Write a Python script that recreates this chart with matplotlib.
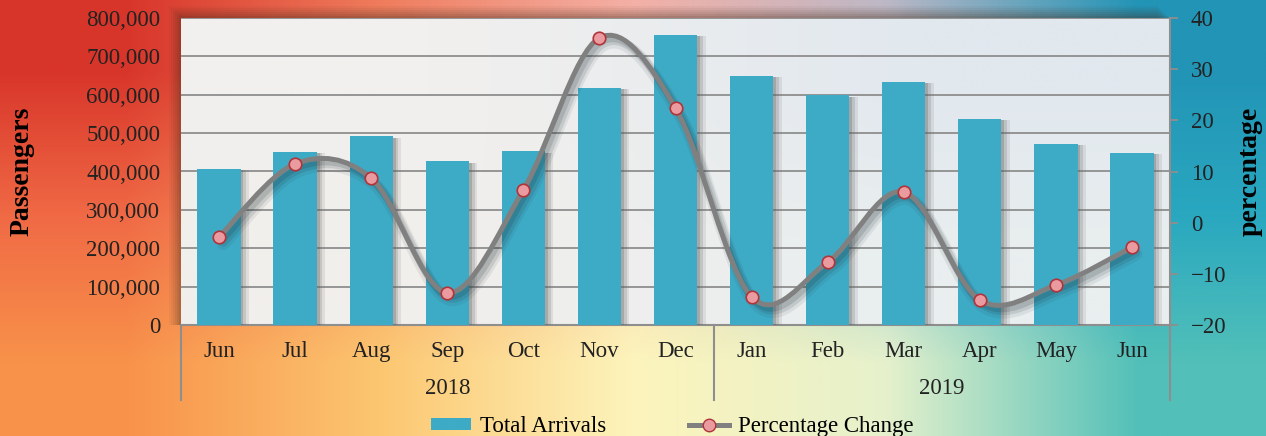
import numpy as np
import matplotlib
matplotlib.use('Agg')
import matplotlib.pyplot as plt
import matplotlib.patheffects as pe
from matplotlib.path import Path
from matplotlib.patches import PathPatch, Rectangle
from matplotlib.colors import to_rgb
from matplotlib.lines import Line2D
from matplotlib.transforms import blended_transform_factory

# data
months = ['Jun', 'Jul', 'Aug', 'Sep', 'Oct', 'Nov', 'Dec',
          'Jan', 'Feb', 'Mar', 'Apr', 'May', 'Jun']
years = ['2018', '2019']
year_spans = [(0, 6), (7, 12)]
arrivals = [407000, 451000, 492000, 427000, 453000, 618000, 756000,
            649000, 599000, 633000, 537000, 472000, 448000]
pct_change = [-2.8, 11.5, 8.7, -13.7, 6.4, 36.1, 22.4,
              -14.5, -7.7, 6.0, -15.1, -12.2, -4.8]

plt.rcParams['font.family'] = ['Liberation Serif', 'DejaVu Serif']
plt.rcParams['font.size'] = 16.5

W, H = 1266, 436
fig = plt.figure(figsize=(W / 100, H / 100), dpi=100)

# gradient page background
bg = fig.add_axes([0, 0, 1, 1], zorder=-10)
top = ['#d8352a', '#ef7c5c', '#f4b0a6', '#bdb8c6', '#2294b6']
mid = ['#f06a45', '#f7a068', '#f8d8b0', '#9ccfcf', '#2aa8c0']
bot = ['#f8924a', '#fcc670', '#fdf4bc', '#e6f1cc', '#52c0b8']
grid = np.array([[to_rgb(c) for c in row] for row in (top, mid, bot)])
bg.imshow(grid, extent=[0, 1, 0, 1], aspect='auto', interpolation='bilinear')
bg.set_axis_off()

left, right = 181 / W, 1170 / W
bottom, topy = (H - 325) / H, (H - 18) / H
ax = fig.add_axes([left, bottom, right - left, topy - bottom], zorder=1)

# soft shadow of the plot area (left and top)
for i, a in enumerate([0.05, 0.06, 0.07, 0.08, 0.10, 0.12]):
    d = (6 - i) * 2
    fig.patches.append(Rectangle((left - d / W, bottom), right - left, topy - bottom + d / H,
                                 transform=fig.transFigure, facecolor='#4a3020',
                                 alpha=a, edgecolor='none', zorder=0))

# plot area fill
area = np.array([[to_rgb('#f2f0ee'), to_rgb('#e1e8ee')],
                 [to_rgb('#f1efec'), to_rgb('#e9eeef')]])
ax.imshow(area, extent=[0, 1, 0, 1], transform=ax.transAxes, aspect='auto',
          interpolation='bilinear', zorder=0)

x = np.arange(len(months))
bars = ax.bar(x, arrivals, width=0.57, color='#3eabc6', zorder=3)
for b in bars:
    b.set_path_effects([pe.SimplePatchShadow(offset=(6, -1), shadow_rgbFace='#777777', alpha=0.15),
                        pe.SimplePatchShadow(offset=(4, -1), shadow_rgbFace='#666666', alpha=0.2),
                        pe.SimplePatchShadow(offset=(2, -1), shadow_rgbFace='#555555', alpha=0.25),
                        pe.Normal()])

ax.set_xlim(-0.5, len(months) - 0.5)
ax.set_ylim(0, 800000)
ax.set_yticks(np.arange(0, 800001, 100000))
ax.set_yticklabels([f'{v:,}' for v in range(0, 800001, 100000)])
ax.yaxis.grid(True, color='#8e8e8e', linewidth=1.3, zorder=1)
ax.set_axisbelow(True)
ax.tick_params(axis='y', length=0, pad=15, labelcolor='#222222')
ax.set_xticks([])
for s in ['top', 'left', 'right']:
    ax.spines[s].set_visible(False)
ax.spines['bottom'].set_color('#8e8e8e')
ax.spines['bottom'].set_linewidth(1.5)
ax.set_ylabel('Passengers', fontweight='bold', fontsize=20)
ax.yaxis.set_label_coords(-0.148, 0.5)

# multi-level category axis
tr = blended_transform_factory(ax.transData, ax.transAxes)
for i, m in enumerate(months):
    ax.text(i, -26 / 307, m, transform=tr, ha='center', va='center', color='#222222')
for yr, (a, b) in zip(years, year_spans):
    ax.text((a + b) / 2, -63 / 307, yr, transform=tr, ha='center', va='center', color='#222222')
for sx in [-0.5, 6.5, len(months) - 0.5]:
    ax.plot([sx, sx], [0, -75 / 307], transform=tr, color='#8e8e8e', lw=1.5, clip_on=False)

# percentage axis
ax2 = ax.twinx()
ax2.set_zorder(2)
ax2.patch.set_visible(False)
ax2.set_ylim(-20, 40)
ax2.set_yticks(np.arange(-20, 41, 10))
ax2.tick_params(axis='y', length=6, width=1.3, color='#8e8e8e', pad=9, labelcolor='#222222')
for s in ['top', 'left', 'bottom']:
    ax2.spines[s].set_visible(False)
ax2.spines['right'].set_color('#8e8e8e')
ax2.spines['right'].set_linewidth(1.5)
ax2.set_ylabel('percentage', fontweight='bold', fontsize=20)
ax2.yaxis.set_label_coords(1.068, 0.5)

# smoothed line (Catmull-Rom as cubic Bezier)
pts = np.column_stack([x, pct_change]).astype(float)
ext = np.vstack([pts[0], pts, pts[-1]])
verts = [tuple(pts[0])]
codes = [Path.MOVETO]
for i in range(len(pts) - 1):
    p0, p1, p2, p3 = ext[i], ext[i + 1], ext[i + 2], ext[i + 3]
    c1 = p1 + (p2 - p0) / 6
    c2 = p2 - (p3 - p1) / 6
    verts += [tuple(c1), tuple(c2), tuple(p2)]
    codes += [Path.CURVE4] * 3
curve = PathPatch(Path(verts, codes), facecolor='none', edgecolor='#808080', lw=3.6,
                  capstyle='round', zorder=4)
curve.set_path_effects([
    pe.SimpleLineShadow(offset=(3, -5), shadow_color='#1a2a30', alpha=0.08, linewidth=9),
    pe.SimpleLineShadow(offset=(3, -4), shadow_color='#1a2a30', alpha=0.12, linewidth=6),
    pe.SimpleLineShadow(offset=(2, -3), shadow_color='#1a2a30', alpha=0.15, linewidth=4),
    pe.Normal()])
ax2.add_patch(curve)
ax2.plot(x, pct_change, linestyle='none', marker='o', markersize=9,
         markerfacecolor='#e99ba0', markeredgecolor='#b0343a', markeredgewidth=1.2, zorder=5)

# legend
handles = [Rectangle((0, 0), 1, 1, facecolor='#3eabc6', edgecolor='none'),
           Line2D([], [], color='#808080', lw=3.6, marker='o', markersize=9,
                  markerfacecolor='#e99ba0', markeredgecolor='#b0343a')]
fig.legend(handles, ['Total Arrivals', 'Percentage Change'], loc='lower center',
           bbox_to_anchor=(0.531, -0.05), ncol=2, frameon=False, handlelength=1.75,
           handleheight=0.45, handletextpad=0.4, columnspacing=3.6)

plt.savefig('out.png', dpi=100)
